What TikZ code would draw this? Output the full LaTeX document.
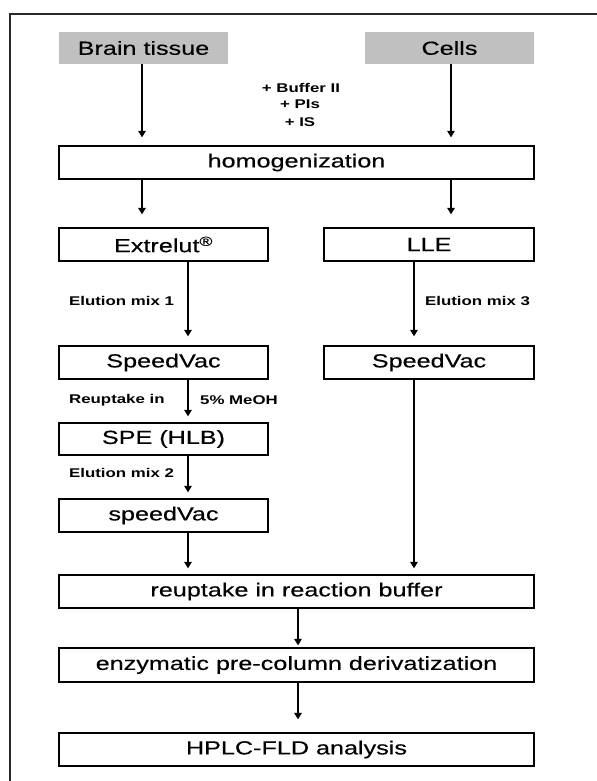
\documentclass[tikz,border=0pt]{standalone}
\usepackage{fontspec}
\setmainfont{Liberation Sans}[FakeStretch=1.33, UprightFeatures={FakeBold=0.3}]
\usetikzlibrary{arrows.meta}
\begin{document}
\begin{tikzpicture}[x=1bp,y=-1bp,
  box/.style={draw=black, line width=1.3bp, minimum height=33bp, inner sep=0pt, font=\fontsize{19}{22}\selectfont},
  src/.style={fill={rgb,255:red,192;green,192;blue,192}, minimum height=32bp, minimum width=169bp, inner sep=0pt, font=\fontsize{19}{22}\selectfont},
  lbl/.style={font=\bfseries\fontsize{12.7}{15}\selectfont, inner sep=0pt},
  arr/.style={line width=1.3bp, -{Triangle[width=7.5bp,length=6.5bp]}},
  frame/.style={line width=2bp, draw={rgb,255:red,40;green,40;blue,40}}
]
\useasboundingbox (0,0) rectangle (597,781);
\draw[frame] (10,781) -- (10,14) -- (597,14);

\node[src] (brain) at (143.5,48) {Brain tissue};
\node[src] (cells) at (449.5,48) {Cells};
\node[box, minimum width=475bp] (homog) at (296.5,162.5) {homogenization};
\node[box, minimum width=209bp] (extr) at (163.5,244.5) {Extrelut\textsuperscript{®}};
\node[box, minimum width=210bp] (lle) at (429,244.5) {LLE};
\node[box, minimum width=209bp] (sv1) at (163.5,362.5) {SpeedVac};
\node[box, minimum width=210bp] (sv2) at (429,362.5) {SpeedVac};
\node[box, minimum width=209bp, minimum height=32bp] (spe) at (163.5,439) {SPE (HLB)};
\node[box, minimum width=209bp] (sv3) at (163.5,515.5) {speedVac};
\node[box, minimum width=475bp] (reup) at (296.5,591.5) {reuptake in reaction buffer};
\node[box, minimum width=475bp, minimum height=34bp] (enz) at (296.5,665) {enzymatic pre-column derivatization};
\node[box, minimum width=475bp] (hplc) at (296.5,749.5) {HPLC-FLD analysis};

\coordinate (xA) at (142,0);
\coordinate (xB) at (451,0);
\coordinate (xC) at (188,0);
\coordinate (xD) at (414,0);
\coordinate (xE) at (298,0);

\draw[arr, shorten >=8bp] (brain.south -| xA) -- (homog.north -| xA);
\draw[arr, shorten >=8bp] (cells.south -| xB) -- (homog.north -| xB);
\draw[arr, shorten >=13bp] (homog.south -| xA) -- (extr.north -| xA);
\draw[arr, shorten >=13bp] (homog.south -| xB) -- (lle.north -| xB);
\draw[arr, shorten >=9bp] (extr.south -| xC) -- (sv1.north -| xC);
\draw[arr, shorten >=9bp] (lle.south -| xD) -- (sv2.north -| xD);
\draw[arr, shorten >=6bp] (sv1.south -| xC) -- (spe.north -| xC);
\draw[arr, shorten >=6bp] (spe.south -| xC) -- (sv3.north -| xC);
\draw[arr, shorten >=6bp] (sv3.south -| xC) -- (reup.north -| xC);
\draw[arr, shorten >=6bp] (sv2.south -| xD) -- (reup.north -| xD);
\draw[arr, shorten >=2bp] (reup.south -| xE) -- (enz.north -| xE);
\draw[arr, shorten >=13bp] (enz.south -| xE) -- (hplc.north -| xE);

\node[lbl] (b1) at (301,88) {+ Buffer II};
\node[lbl] (b2) at (300,104) {+ PIs};
\node[lbl] (b3) at (300,122) {+ IS};
\node[lbl, anchor=west] (l1) at (69,301) {Elution mix 1};
\node[lbl, anchor=west] (l3) at (425,301) {Elution mix 3};
\node[lbl, anchor=west] (r1) at (69,400) {Reuptake in};
\node[lbl, anchor=west] (r2) at (200,400) {5\% MeOH};
\node[lbl, anchor=west] (l2) at (69,473) {Elution mix 2};
\end{tikzpicture}
\end{document}
